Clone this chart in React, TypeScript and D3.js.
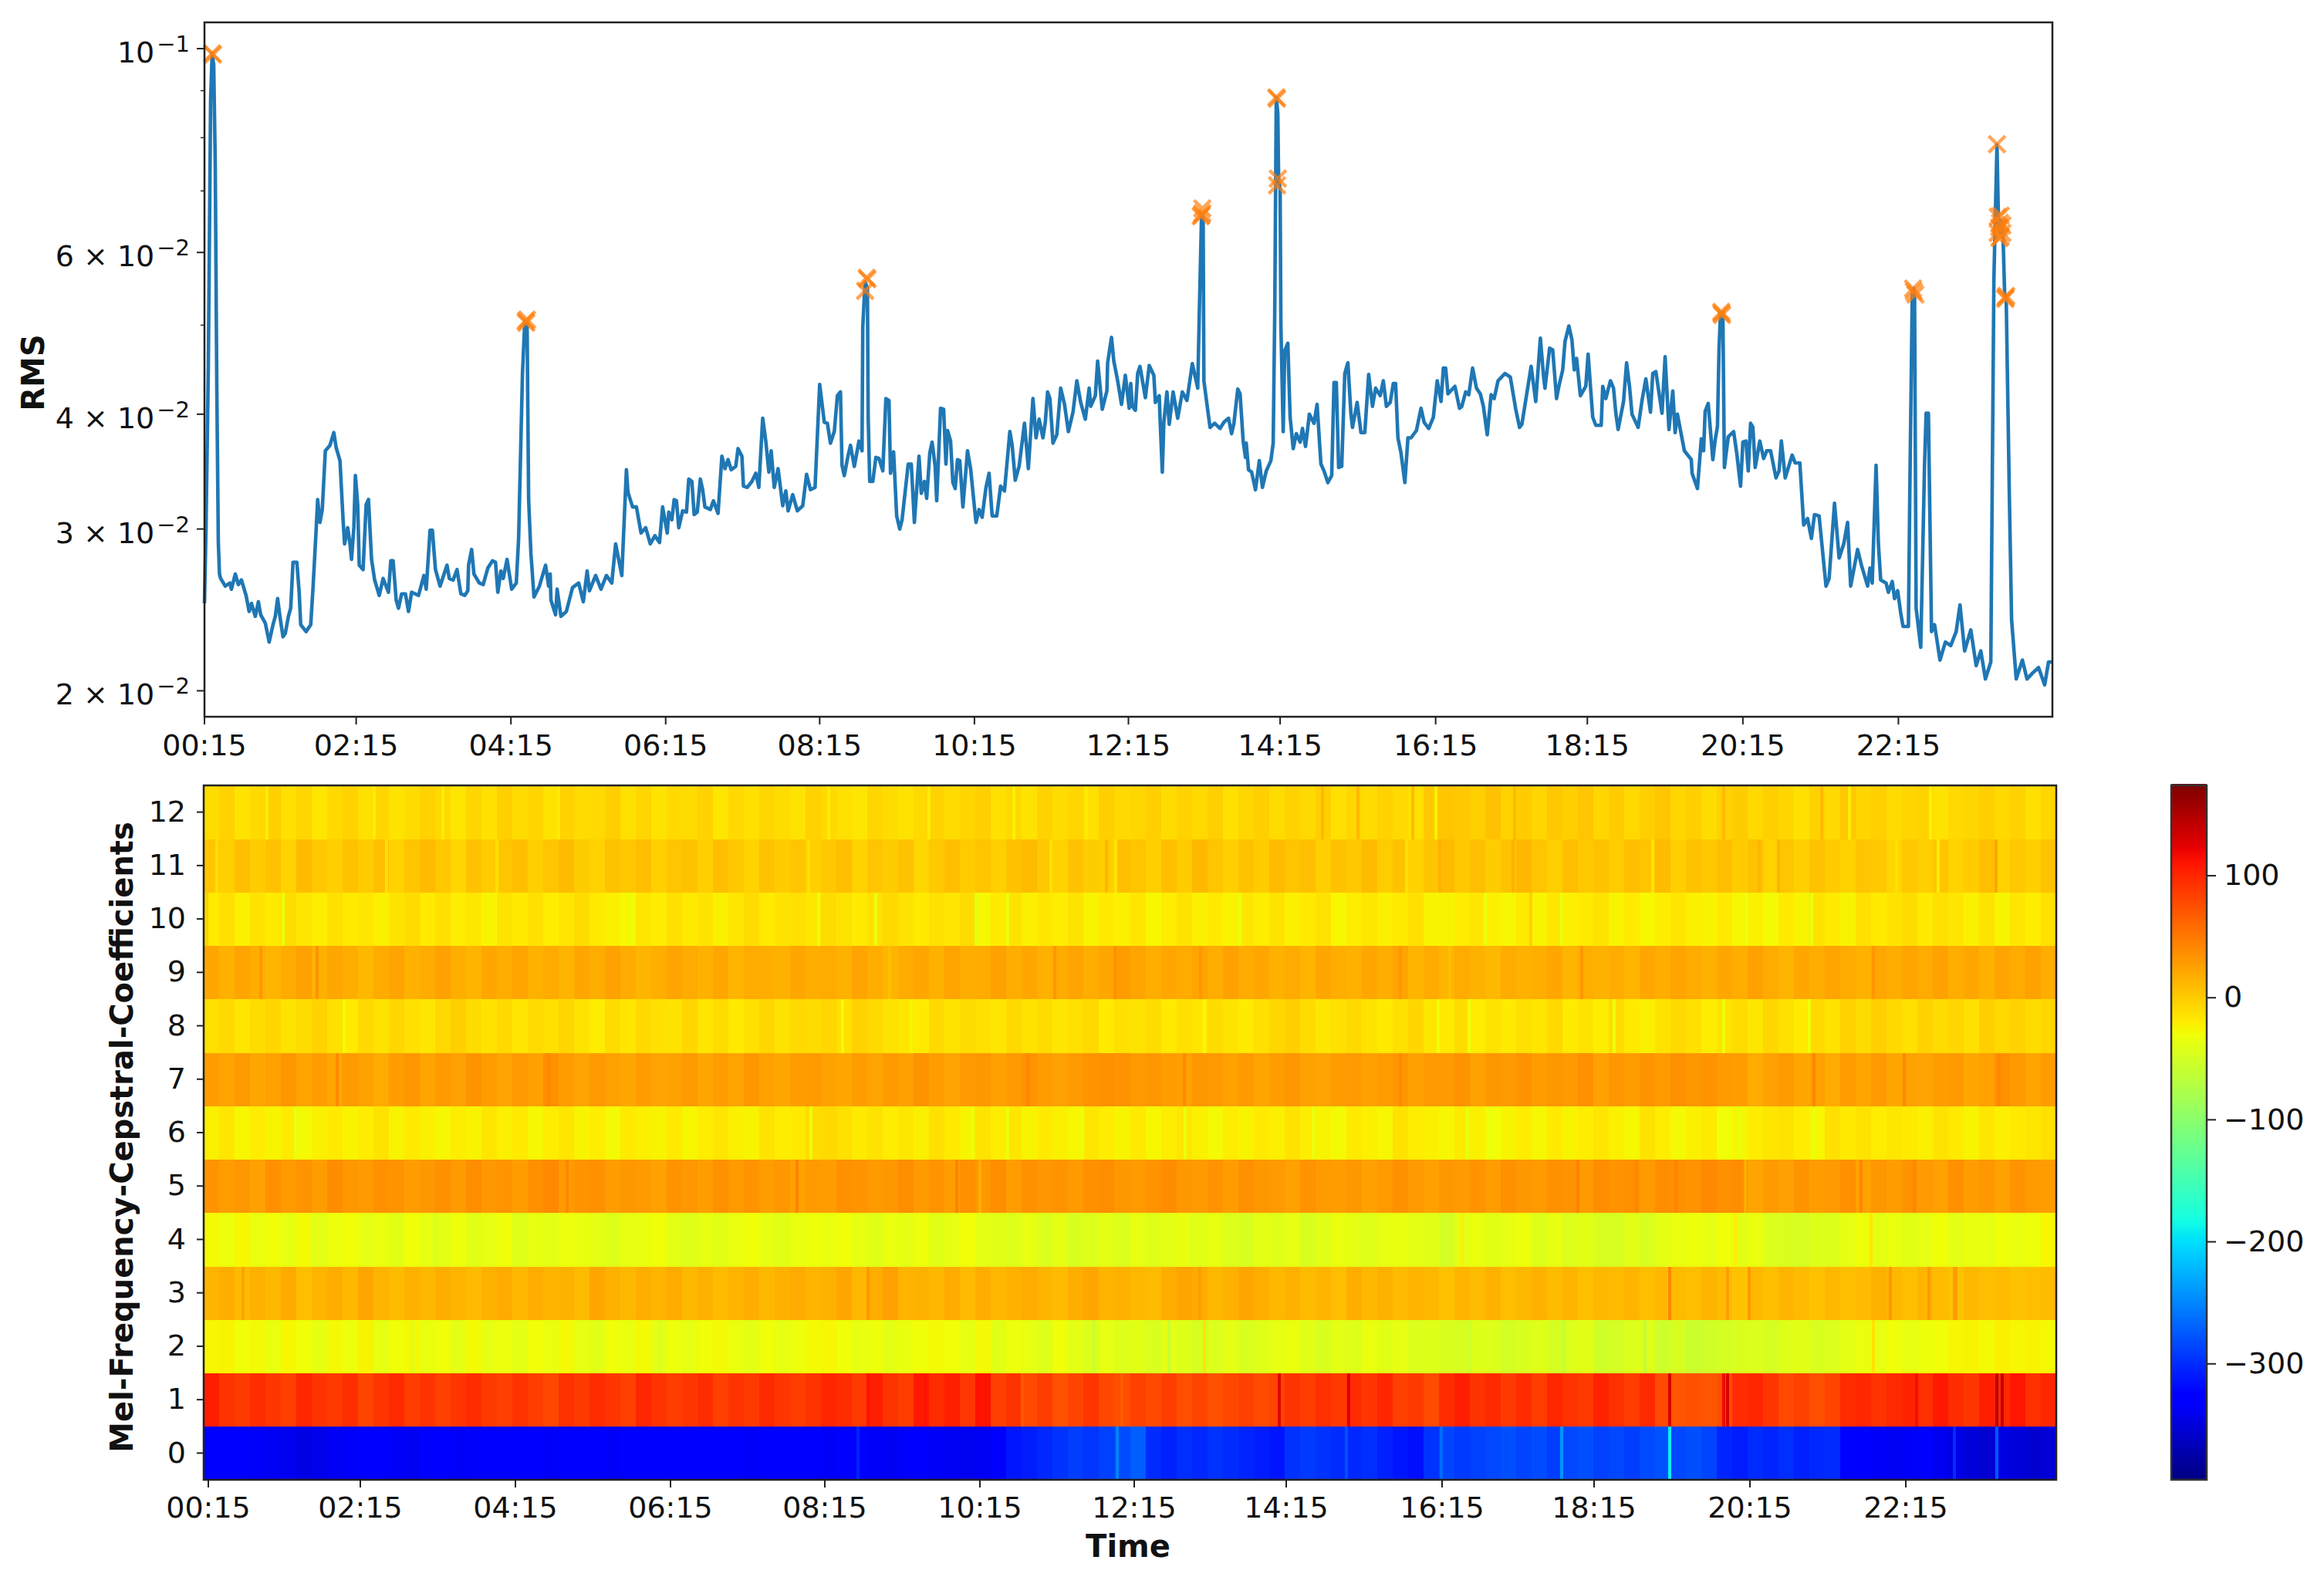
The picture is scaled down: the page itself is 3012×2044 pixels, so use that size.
import { useEffect, useRef } from 'react';
import * as d3 from 'd3';

// tick positions are the real timestamps of the recording, so they wander a little
const tickHours = [0.25, 2.22, 4.23, 6.24, 8.24, 10.25, 12.25, 14.22, 16.24, 18.21, 20.23, 22.25];
const tickLabels = ['00:15', '02:15', '04:15', '06:15', '08:15', '10:15', '12:15', '14:15', '16:15', '18:15', '20:15', '22:15'];

// RMS trace, [hour, value in 1e-3]
const rmsNight: number[][] = [
  [.25,24.9],[.27,30],[.30,45],[.33,88],[.35,98.8],[.37,96],[.39,75],[.41,43],[.43,29],[.445,26.8],
  [.46,26.5],[.52,26],[.58,26.2],[.60,25.8],[.65,26.8],[.69,26.1],[.73,26.4],[.79,25.4],[.83,24.4],[.86,24.9],
  [.91,24.1],[.95,25],[.98,24.2],[1.04,23.7],[1.09,22.6],[1.14,23.6],[1.17,24.1],[1.20,25.2],[1.23,24.1],[1.27,22.9],
  [1.30,23.1],[1.34,24.1],[1.37,24.6],[1.40,27.6],[1.45,27.6],[1.48,25.6],[1.50,23.6],[1.57,23.2],[1.63,23.6],[1.66,25.9],
  [1.70,29.9],[1.72,32.3],[1.75,30.5],[1.78,31.5],[1.82,36.5],[1.88,37],[1.93,38.2],[1.96,36.8],[2.01,35.6],[2.05,30.7],
  [2.07,28.9],[2.11,30.1],[2.14,28.9],[2.16,27.8],[2.19,30.1],[2.21,34.3],[2.24,31.9],[2.26,27.4],[2.31,27.1],[2.35,31.9],
  [2.38,32.3],[2.42,27.8],[2.46,26.4],[2.52,25.4],[2.57,26.5],[2.64,25.6],[2.67,27.7],[2.70,27.7],[2.74,25.1],[2.77,24.6],
  [2.81,25.5],[2.86,25.5],[2.90,24.4],[2.94,25.6],[3.03,25.4],[3.10,26.7],[3.13,25.8],[3.18,29.9],[3.21,29.9],[3.25,27.1],
  [3.31,26],[3.40,27.4],[3.43,26.5],[3.48,26.4],[3.53,27.1],[3.58,25.5],[3.63,25.4],[3.67,25.7],[3.68,27.4],[3.72,28.5],
  [3.75,26.8],[3.82,26.2],[3.87,26.1],[3.93,27.2],[3.99,27.7],[4.03,27.6],[4.06,25.6],[4.10,27],[4.13,26.5],[4.18,27.8],
  [4.24,25.8],[4.30,26.2],[4.33,29.3],[4.38,44.3],[4.41,50.4],[4.44,50.2],[4.46,32.3],[4.49,28.2],[4.53,25.3],[4.60,26],
  [4.68,27.4],[4.72,26],[4.74,26.8],[4.75,25.1],[4.81,24.2],[4.83,25.8],[4.88,24.1],[4.95,24.4],[5.03,25.9],[5.11,26.2],
  [5.17,25],[5.22,27],[5.25,25.7],[5.33,26.7],[5.40,25.8],[5.47,26.7],[5.54,26.2],[5.59,28.9],[5.67,26.7],[5.73,34.8],
  [5.75,32.9],[5.81,31.7],[5.86,31.7],[5.92,29.7],[5.98,30.1],[6.04,28.9],[6.10,29.5],[6.16,29],[6.20,31.7],
];
const rmsMorning: number[][] = [
  [6.26,29.7],[6.28,31.3],[6.32,30.7],[6.35,32.3],[6.38,32.2],[6.41,30.1],[6.46,31.4],[6.51,31.3],[6.54,34],[6.58,33.8],
  [6.61,31.1],[6.65,31.3],[6.69,34],[6.72,33.1],[6.75,31.7],[6.82,31.5],[6.86,32.2],[6.92,31.2],[6.97,36],[7.01,34.9],
  [7.05,35.7],[7.09,34.8],[7.15,35.1],[7.18,36.7],[7.23,36],[7.25,33.4],[7.30,33.3],[7.36,33.8],[7.41,34.5],[7.45,33.3],
  [7.50,39.6],[7.54,37.4],[7.58,34.6],[7.61,36.5],[7.65,33.3],[7.70,34.9],[7.76,31.8],[7.80,33],[7.83,31.4],[7.89,32.7],
  [7.95,31.4],[8.02,31.8],[8.07,34.4],[8.12,33.1],[8.18,33.3],[8.24,43.1],[8.30,39.2],[8.34,39.1],[8.38,37.2],[8.43,38.3],
  [8.47,41.9],[8.51,42.3],[8.53,35.2],[8.56,34.3],[8.61,36.1],[8.64,37],[8.69,35.1],[8.75,37.4],[8.79,36.5],[8.80,49.8],
  [8.82,53.8],[8.83,55.7],[8.86,54.9],[8.87,39.7],[8.89,33.8],[8.93,33.8],[8.97,35.9],[9.01,35.8],[9.06,34.7],[9.10,41.6],
  [9.14,41.4],[9.16,34.5],[9.20,36.4],[9.24,31],[9.28,30],[9.31,30.7],[9.39,35.3],[9.43,35.3],[9.47,30.5],[9.53,36],
  [9.56,32.8],[9.60,33.8],[9.63,32.4],[9.67,36.3],[9.70,37.3],[9.74,35.1],[9.76,32.2],[9.81,40.6],[9.85,40.5],[9.88,35.3],
  [9.90,38.4],[9.94,37.4],[9.97,33.7],[10.00,33.2],[10.03,35.7],[10.06,35.6],[10.10,31.7],[10.16,36.5],[10.20,34.9],[10.27,30.5],
  [10.31,31.5],[10.35,30.9],[10.40,33.3],[10.44,34.5],[10.48,31],[10.54,31],[10.59,33.4],[10.64,33],[10.71,38.3],[10.74,37],
  [10.78,33.9],[10.83,35.1],[10.90,39.1],[10.95,34.9],[11.01,41.6],[11.05,37.7],[11.09,39.5],[11.14,37.7],[11.17,39.2],[11.20,42.3],
  [11.23,41.6],[11.27,37.2],[11.32,38],[11.37,42.7],[11.42,41],[11.47,38.3],[11.53,40.2],[11.58,43.5],[11.63,41.2],[11.69,39.5],
  [11.74,42.7],[11.76,40.8],[11.82,41.9],[11.85,45.7],[11.91,40.5],[11.97,42.4],[11.98,45.5],[12.03,48.5],[12.06,45.7],[12.11,43.5],
  [12.16,41],[12.21,44.1],[12.26,40.6],
];
const rmsAfternoon: number[][] = [
  [12.28,43.2],[12.30,40.8],[12.34,40.4],[12.37,44.3],[12.40,45.1],[12.47,41.7],[12.52,45.2],[12.58,44.1],[12.60,41.2],[12.65,41.9],
  [12.66,39.7],[12.69,34.6],[12.71,39.2],[12.75,42.3],[12.78,39],[12.83,42.3],[12.89,39.6],[12.95,42.3],[13.01,41.4],[13.08,45.4],
  [13.15,42.7],[13.17,51.4],[13.20,66.1],[13.22,65.5],[13.23,43.5],[13.27,41],[13.31,38.7],[13.37,39.1],[13.44,38.6],[13.49,39.2],
  [13.55,39.6],[13.59,38.1],[13.62,39.1],[13.67,42.6],[13.70,42.1],[13.74,37.4],[13.77,35.9],[13.78,37.2],[13.81,34.8],[13.85,34.6],
  [13.90,33.1],[13.95,35.6],[13.99,33.3],[14.04,34.7],[14.10,35.6],[14.13,37.2],[14.15,51.4],[14.17,88.5],[14.19,85],[14.20,72.4],
  [14.22,70.2],[14.23,50],[14.26,38.3],[14.28,46.9],[14.32,47.8],[14.35,39.7],[14.39,36.7],[14.43,38.1],[14.48,37.3],[14.51,38.6],
  [14.55,36.9],[14.60,40],[14.66,39.1],[14.70,41],[14.75,35.3],[14.79,34.7],[14.84,33.7],[14.89,34.3],[14.92,43.3],[14.95,43.3],
  [14.98,35],[15.02,35.1],[15.06,44.3],[15.10,45.5],[15.14,40],[15.16,38.7],[15.22,41.2],[15.27,38.2],[15.32,38.2],[15.37,44.2],
  [15.42,40.8],[15.46,42.7],[15.52,41.9],[15.56,43.5],[15.60,40.8],[15.65,41.2],[15.69,43.2],[15.72,43.2],[15.75,37.7],[15.79,36.3],
  [15.84,33.7],[15.88,37.7],[15.92,37.7],[15.99,38.4],[16.05,40.6],[16.09,39.2],[16.15,38.6],[16.21,39.7],[16.26,43.5],[16.31,41.3],
  [16.34,44.9],[16.37,44.9],[16.40,42.1],[16.49,42.9],[16.55,40.6],[16.58,40.8],[16.63,42.3],[16.67,42],[16.72,44.9],[16.77,42.7],
  [16.82,42.1],[16.86,40.8],[16.91,38],[16.96,42],[17.00,41.6],[17.05,43.5],[17.14,44.3],[17.21,43.9],[17.28,40.5],[17.33,38.7],
  [17.36,39],[17.48,45.1],[17.54,41.3],[17.60,48.4],[17.64,44.1],[17.66,42.7],[17.72,47.2],[17.76,47],[17.81,41.6],[17.84,42.9],
  [17.89,44.7],[17.92,48],[17.97,49.9],[18.01,48.2],[18.04,44.7],[18.07,46],[18.12,41.9],[18.19,42.9],[18.22,46.5],
];
const rmsEvening: number[][] = [
  [18.28,39.7],[18.32,38.9],[18.39,38.9],[18.41,42.9],[18.45,41.6],[18.51,43.5],[18.55,42.7],[18.58,40.1],[18.61,38.5],[18.68,41.3],
  [18.72,45.5],[18.76,42.7],[18.79,40],[18.87,38.7],[18.92,41.4],[18.97,43.7],[19.03,40.2],[19.06,44.3],[19.10,44.5],[19.18,40.1],
  [19.22,46.2],[19.27,38.5],[19.32,42.4],[19.35,38.2],[19.38,40],[19.47,36.5],[19.56,35.7],[19.57,34.5],[19.64,33.2],[19.69,37.6],
  [19.72,36.5],[19.74,40.3],[19.78,41.1],[19.84,35.7],[19.87,37.5],[19.90,38.8],[19.92,47],[19.94,51.6],[19.97,51.6],[19.99,35],
  [20.04,37.8],[20.11,38.3],[20.15,36.3],[20.20,33.4],[20.23,37.3],[20.27,37.4],[20.30,34.7],[20.33,39.1],[20.36,38.7],[20.39,35],
  [20.45,37.4],[20.50,35.8],[20.54,36.5],[20.59,36.5],[20.66,34.1],[20.70,34.7],[20.73,37.4],[20.78,34.1],[20.87,36.1],[20.91,35.4],
  [20.97,35.4],[21.02,30.3],[21.07,30.8],[21.12,29.3],[21.16,31.1],[21.22,31],[21.31,26],[21.35,26.5],[21.42,32],[21.48,27.9],
  [21.54,28.9],[21.59,30.5],[21.63,26],[21.72,28.5],[21.77,27.4],[21.85,26],[21.88,27.2],[21.91,26.2],[21.96,35.2],[21.99,28.9],
  [22.02,26.4],[22.09,26.2],[22.12,25.6],[22.17,26.3],[22.20,25.2],[22.24,25.7],[22.28,24.3],[22.31,23.5],[22.38,23.5],[22.40,34],
  [22.43,54],[22.45,54.8],[22.46,53.5],[22.48,24.6],[22.54,22.3],[22.59,35.4],[22.61,40.1],[22.64,40.1],[22.68,23.2],[22.72,23.6],
  [22.79,21.6],[22.86,22.6],[22.93,22.4],[23.00,23.2],[23.05,24.8],[23.11,22.1],[23.19,23.3],[23.26,21.3],[23.32,22.1],[23.38,20.6],
  [23.45,21.5],[23.49,56],[23.53,78.6],[23.55,64.5],[23.57,63],[23.59,65],[23.61,62],[23.63,54],[23.65,53.5],[23.69,32.9],
  [23.72,23.9],[23.78,20.6],[23.86,21.6],[23.92,20.6],[23.99,20.9],[24.07,21.2],[24.15,20.3],[24.20,21.5],[24.24,21.5],
];

// detected peaks, [hour, value in 1e-3]; repeats are peaks that land on top of each other
const peaks: number[][] = [
  [.35,98.8],[.36,98.5],
  [4.42,50.5],[4.44,50.7],[4.43,50.3],
  [8.85,56.3],[8.86,56.1],[8.83,54.5],
  [13.21,67],[13.20,65.9],[13.19,65.7],[13.21,66.2],
  [14.17,88.5],[14.18,88.2],[14.19,72.2],[14.18,71],
  [19.95,51.5],[19.95,51.7],[19.96,51.3],
  [22.44,54.8],[22.47,54],[22.45,54.4],
  [23.53,78.7],[23.54,65.6],[23.56,63.9],[23.58,65.8],[23.56,62.2],[23.60,63],[23.58,62.4],[23.54,63],[23.60,64.2],[23.57,64.6],
  [23.64,53.6],[23.65,53.8],[23.64,53.4],
];

// MFCC values, one list per coefficient, 12 minute columns from 00:11
const mfcc0 = [-330,-326,-332,-335,-338,-340,-345,-342,-338,-335,-330,-328,-335,-338,-332,-330,-336,-334,-330,-333,-330,-326,-335,-332,-328,-332,-336,-330,-326,-330,-328,-332,-330,-325,-328,-335,-330,-327,-332,-330,-335,-332,-326,-335,-338,-334,-330,-336,-338,-340,-338,-330,-312,-308,-302,-296,-290,-295,-288,-282,-272,-300,-306,-298,-302,-296,-300,-304,-308,-312,-296,-292,-296,-300,-302,-298,-306,-312,-316,-296,-286,-292,-288,-284,-280,-286,-282,-290,-284,-280,-288,-284,-290,-282,-278,-284,-280,-286,-304,-308,-300,-304,-298,-306,-302,-300,-330,-332,-335,-338,-335,-330,-340,-345,-350,-355,-345,-350,-355,-352];
const mfcc1 = [105,92,88,96,90,85,100,92,88,95,82,90,98,86,92,84,90,96,88,84,92,86,80,94,88,96,90,84,100,92,86,90,96,84,92,88,98,90,86,92,100,96,88,104,92,86,108,96,104,90,112,84,92,78,86,74,82,90,80,76,84,78,86,76,82,74,80,84,78,82,92,86,94,88,96,90,100,84,88,78,96,104,92,98,88,96,86,100,92,88,102,94,86,98,78,72,74,72,76,96,100,90,78,84,76,82,96,100,92,98,102,94,108,96,90,104,98,110,94,100];
const mfcc2 = [-26,-24,-30,-28,-34,-26,-30,-36,-28,-32,-24,-36,-30,-28,-34,-30,-38,-28,-36,-32,-38,-30,-34,-28,-36,-40,-30,-34,-28,-38,-32,-36,-30,-28,-34,-38,-30,-36,-32,-28,-26,-30,-36,-32,-38,-34,-30,-28,-30,-36,-28,-40,-32,-36,-42,-30,-38,-44,-36,-42,-40,-46,-38,-42,-48,-44,-38,-46,-42,-36,-34,-40,-46,-38,-42,-34,-40,-36,-44,-42,-46,-48,-42,-44,-50,-46,-42,-48,-44,-40,-52,-50,-44,-42,-54,-48,-56,-52,-50,-46,-44,-48,-42,-40,-46,-44,-38,-34,-36,-30,-36,-32,-30,-26,-24,-28,-22,-26,-24,-28];
const mfcc3 = [14,18,10,16,12,20,8,14,18,12,22,14,10,16,12,18,14,10,16,20,12,18,14,16,10,22,16,12,18,14,20,12,16,10,14,18,12,16,20,14,16,22,12,18,26,14,16,12,20,10,18,12,16,20,14,10,18,22,14,16,12,10,18,24,20,12,16,22,18,12,16,10,14,8,18,12,16,10,14,12,6,14,10,16,8,12,16,10,14,8,12,10,14,8,12,10,8,14,10,6,12,8,14,10,6,12,8,10,16,12,8,14,10,6,12,8,10,6,8,10];
const mfcc4 = [-28,-32,-26,-34,-30,-36,-28,-38,-32,-30,-36,-34,-40,-30,-36,-38,-32,-40,-36,-30,-42,-36,-38,-32,-34,-38,-42,-36,-34,-30,-38,-42,-36,-40,-34,-30,-36,-40,-34,-32,-34,-30,-36,-40,-34,-38,-32,-40,-36,-30,-38,-40,-42,-36,-44,-38,-46,-42,-38,-44,-36,-42,-38,-34,-40,-36,-44,-46,-38,-42,-36,-46,-40,-34,-38,-42,-36,-34,-38,-40,-50,-38,-34,-40,-36,-32,-42,-36,-44,-40,-46,-48,-40,-46,-38,-34,-32,-36,-30,-38,-34,-44,-46,-48,-42,-44,-36,-32,-38,-34,-40,-36,-30,-38,-34,-36,-30,-34,-32,-26];
const mfcc5 = [34,28,32,26,36,30,34,28,38,32,30,36,34,28,32,36,30,38,32,34,28,36,40,30,34,36,28,32,30,26,34,32,28,36,30,34,28,32,26,30,28,36,34,30,32,38,30,34,28,36,32,38,28,36,32,34,30,36,38,32,30,34,38,32,30,34,28,36,32,30,26,34,30,28,32,26,30,36,30,26,32,30,34,28,36,32,30,36,34,30,38,34,36,30,38,36,34,40,36,38,24,30,26,34,28,30,36,26,32,28,34,30,26,36,28,32,26,34,30,28];
const mfcc6 = [-22,-16,-26,-20,-24,-18,-28,-22,-18,-24,-20,-14,-24,-18,-22,-26,-20,-24,-16,-22,-18,-26,-20,-16,-24,-20,-28,-18,-22,-24,-18,-26,-20,-16,-22,-24,-14,-20,-18,-10,-8,-12,-18,-14,-20,-16,-22,-12,-18,-24,-14,-20,-16,-24,-18,-22,-26,-16,-20,-24,-18,-26,-20,-16,-22,-28,-20,-24,-18,-22,-14,-20,-24,-28,-18,-22,-26,-14,-20,-22,-26,-18,-22,-30,-24,-20,-26,-18,-24,-20,-16,-22,-26,-14,-20,-28,-22,-18,-30,-26,-20,-16,-14,-20,-26,-12,-18,-14,-20,-16,-18,-22,-14,-18,-24,-16,-22,-18,-16,-12];
const mfcc7 = [28,24,30,22,26,32,24,28,22,30,26,20,28,32,24,30,26,34,28,24,30,26,36,28,24,30,26,22,28,24,26,30,22,28,24,32,26,22,28,30,26,22,28,24,30,26,34,28,24,30,32,26,30,34,28,26,30,34,36,34,30,32,28,26,32,30,26,30,24,28,32,26,24,28,30,26,28,32,26,30,30,34,26,32,30,34,28,32,30,36,26,32,28,34,30,36,32,34,30,28,20,26,30,22,26,20,28,24,30,22,26,24,28,30,22,26,36,30,24,28];
const mfcc8 = [-12,-8,-16,-10,-6,-14,-10,-4,-12,-18,-8,-14,-6,-12,-16,-8,-2,-10,-14,-8,-16,-10,-12,-6,-14,-20,-10,-16,-8,-12,-14,-6,-16,-10,-18,-12,-6,-14,-8,-10,-6,-12,-4,-8,-14,-16,-18,-8,-14,-10,-12,-16,-8,-14,-10,-16,-12,-8,-18,-12,-14,-10,-18,-12,-16,-10,-14,-18,-12,-6,-2,-10,-16,-12,-8,-14,-18,-12,-6,-16,-18,-10,-20,-14,-18,-12,-16,-8,-18,-14,-20,-10,-18,-22,-14,-8,-12,-20,-14,-10,-16,-6,-12,-18,-8,-14,-4,-10,-2,-8,-12,-4,-10,-6,-12,-2,-8,-4,-10,-6];
const mfcc9 = [22,16,24,18,14,20,26,16,22,18,12,20,24,16,20,26,18,14,22,18,24,16,20,14,22,18,26,20,14,18,24,20,16,22,14,20,18,16,22,18,20,16,24,18,14,20,22,16,24,18,20,26,18,22,16,20,24,18,22,28,24,18,22,20,24,18,26,20,22,16,20,14,22,18,16,22,18,24,14,20,14,20,16,12,20,16,18,22,14,18,16,20,14,22,18,24,20,16,22,18,26,20,14,22,18,24,20,16,22,18,24,20,26,18,22,16,24,20,26,18];
const mfcc10 = [-18,-12,-22,-14,-18,-10,-16,-20,-12,-18,-16,-22,-14,-10,-18,-12,-20,-16,-24,-14,-18,-12,-20,-16,-10,-18,-22,-26,-16,-20,-12,-18,-14,-22,-16,-10,-18,-14,-12,-16,-10,-14,-18,-12,-8,-14,-18,-12,-16,-10,-26,-18,-14,-22,-16,-20,-14,-24,-18,-22,-16,-26,-20,-14,-22,-18,-24,-16,-20,-14,-22,-18,-14,-26,-20,-16,-22,-18,-12,-24,-24,-20,-16,-22,-26,-18,-24,-16,-22,-18,-14,-24,-18,-26,-20,-16,-22,-24,-18,-26,-22,-28,-18,-24,-14,-18,-24,-12,-18,-14,-10,-18,-12,-16,-22,-14,-24,-16,-20,-12];
const mfcc11 = [4,-2,8,0,6,-4,10,2,-2,6,0,8,-4,4,10,2,-6,6,0,4,8,-2,4,10,0,-4,6,2,8,-2,4,6,-2,8,2,-4,6,0,4,-2,2,8,-4,4,0,6,-6,2,8,0,4,-2,6,10,2,-4,6,0,-2,8,4,-2,8,0,12,4,-2,6,0,10,4,8,-2,6,2,10,0,6,-4,4,10,2,8,0,6,12,4,-2,8,2,6,0,8,4,10,-2,6,2,8,0,6,-4,4,-2,6,0,-4,4,2,-6,2,-2,4,-4,0,8,-4,2,-2,6];
const mfcc12 = [-10,-4,-14,-8,-2,-12,-6,-16,-8,-4,-12,-6,-14,-10,-4,-8,-16,-6,-12,-2,-10,-6,-14,-4,-10,-8,-2,-12,-6,-14,-8,-10,-4,-16,-8,-12,-6,-10,-14,-4,-8,-12,-16,-6,-10,-14,-8,-4,-10,-6,-2,-12,-8,-14,-4,-10,-6,-12,-2,-8,-6,-2,-10,-4,-8,-2,-12,-6,-2,-10,-4,-8,-2,-12,-6,-10,-4,-8,-12,2,4,2,-2,6,-4,0,-6,2,-2,4,-6,0,-8,-2,4,-6,-2,-10,-4,0,-8,-2,-6,-12,-4,-8,2,-6,-2,-10,-6,-4,-14,-8,-6,-2,-8,-4,-12,-6];
const mfccRows = [mfcc0, mfcc1, mfcc2, mfcc3, mfcc4, mfcc5, mfcc6, mfcc7, mfcc8, mfcc9, mfcc10, mfcc11, mfcc12];

// thin single-frame outliers inside each band, [hour, value]
const stripes0 = [[19.19,-190],[17.79,-240],[22.88,-300],[23.43,-275],[12.03,-250],[8.67,-305],[16.23,-265],[15.0,-280]];
const stripes1 = [[19.19,130],[19.94,130],[23.43,145],[23.5,140],[14.13,125],[15.03,128],[9.54,112],[8.80,112],[10.28,110],[22.39,115],[19.89,118],[10.8,70],[12.09,68]];
const stripes2 = [[18.87,-62],[12.7,-60],[11.73,-58],[17.82,-62],[13.16,-14],[21.83,-14],[16.6,-52],[6.1,-46],[2.9,-44]];
const stripes3 = [[19.19,42],[22.05,32],[22.88,30],[22.55,30],[8.8,32],[19.94,28],[20.22,30],[22.9,28],[13.1,28],[0.7,26]];
const stripes4 = [[20.04,-20],[11.71,-48],[18.3,-50],[13.0,-46],[16.5,-22],[21.8,-16],[3.2,-46],[1.6,-44]];
const stripes5 = [[7.88,44],[9.95,44],[18.0,44],[18.76,42],[19.27,44],[21.67,42],[22.36,42],[10.25,18],[20.17,18],[4.9,42]];
const stripes6 = [[8.06,-34],[10.15,-34],[10.61,-34],[11.58,-34],[12.91,-34],[14.57,-34],[16.57,-36],[16.85,-34],[20.09,-36],[21.06,-34],[1.38,-34]];
const stripes7 = [[23.46,42],[10.87,42],[12.9,40],[21.06,42],[22.23,40],[4.66,42],[1.92,40],[15.7,40]];
const stripes8 = [[16.19,-30],[16.59,-32],[18.47,-32],[8.47,-28],[9.36,-26],[13.16,-28],[19.89,-30],[2.01,-28],[21.0,-30]];
const stripes9 = [[12.0,36],[11.22,32],[13.11,32],[15.7,32],[18.05,32],[21.83,32],[0.93,32],[1.66,34],[16.34,8],[9.08,8]];
const stripes10 = [[10.2,-38],[8.9,-34],[8.16,-34],[10.61,-34],[13.62,-34],[16.8,-34],[17.79,-34],[20.19,-34],[21.03,-34],[1.22,-32],[5.74,-34],[17.39,-4],[0.23,-4]];
const stripes11 = [[8.03,-14],[11.17,-14],[12.01,-14],[15.78,-14],[18.97,-14],[22.67,-20],[22.13,-14],[0.36,-12],[2.56,-12],[3.99,-12],[11.89,14],[17.16,16],[16.21,16],[20.35,14],[20.6,14],[23.42,22]];
const stripes12 = [[8.29,-20],[9.59,-20],[10.69,-22],[11.63,-20],[16.16,-22],[21.52,-20],[22.57,-24],[1.01,-20],[2.4,-20],[3.29,-20],[4.79,-20],[14.69,12],[15.15,12],[15.86,10],[17.18,12],[19.89,12],[21.16,10]];
const stripeRows = [stripes0, stripes1, stripes2, stripes3, stripes4, stripes5, stripes6, stripes7, stripes8, stripes9, stripes10, stripes11, stripes12];

const cbTicks = [100, 0, -100, -200, -300];
const vMin = -395;
const vMax = 174;

const FONT = '"DejaVu Sans", sans-serif';
const INK = '#222';

// matplotlib jet
const jetR = d3.scaleLinear().domain([0, .35, .66, .89, 1]).range([0, 0, 1, 1, .5]).clamp(true);
const jetG = d3.scaleLinear().domain([0, .125, .375, .64, .91, 1]).range([0, 0, 1, 1, 0, 0]).clamp(true);
const jetB = d3.scaleLinear().domain([0, .11, .34, .65, 1]).range([.5, 1, 1, 0, 0]).clamp(true);
const jetColor = (v: number) => {
  const t = (v - vMin) / (vMax - vMin);
  return `rgb(${Math.round(jetR(t) * 255)},${Math.round(jetG(t) * 255)},${Math.round(jetB(t) * 255)})`;
};

const styleAxis = (g: any) => {
  g.select('.domain').remove();
  g.selectAll('line').attr('stroke', INK).attr('stroke-width', 2);
  g.selectAll('text').attr('font-family', FONT).attr('font-size', 38).attr('fill', '#111');
};

const App = () => {
  const svgRef = useRef<SVGSVGElement>(null);

  useEffect(() => {
    const svg = d3.select(svgRef.current);
    svg.selectAll('*').remove();

    // top panel
    const top = { left: 265, right: 2660, top: 29, bottom: 929 };
    const xTop = d3.scaleLinear().domain([0.25, 24.25]).range([top.left, top.right]);
    const yTop = d3.scaleLog().domain([0.01874, 0.1068]).range([top.bottom, top.top]);

    const rms = [...rmsNight, ...rmsMorning, ...rmsAfternoon, ...rmsEvening];
    const line = d3.line<number[]>()
      .x(d => xTop(d[0]))
      .y(d => yTop(d[1] / 1000));

    svg.append('path')
      .datum(rms)
      .attr('fill', 'none')
      .attr('stroke', '#1f77b4')
      .attr('stroke-width', 4.6)
      .attr('stroke-linejoin', 'round')
      .attr('d', line);

    const markers = d3.symbol().type(d3.symbolX).size(300);
    svg.append('g').selectAll('path')
      .data(peaks)
      .join('path')
      .attr('transform', d => `translate(${xTop(d[0])},${yTop(d[1] / 1000)})`)
      .attr('d', markers)
      .attr('fill', 'none')
      .attr('stroke', '#ff7f0e')
      .attr('stroke-width', 4.4)
      .attr('stroke-opacity', 0.7);

    svg.append('rect')
      .attr('x', top.left).attr('y', top.top)
      .attr('width', top.right - top.left).attr('height', top.bottom - top.top)
      .attr('fill', 'none').attr('stroke', INK).attr('stroke-width', 2.5);

    svg.append('g')
      .attr('transform', `translate(0,${top.bottom})`)
      .call(d3.axisBottom(xTop).tickValues(tickHours).tickFormat((_, i) => tickLabels[i]).tickSize(10).tickPadding(13).offset(0) as any)
      .call(styleAxis);

    // log axis: labelled majors, bare minors
    const yMajor = [[0.1, '10', '\u22121'], [0.06, '6 \u00d7 10', '\u22122'], [0.04, '4 \u00d7 10', '\u22122'], [0.03, '3 \u00d7 10', '\u22122'], [0.02, '2 \u00d7 10', '\u22122']] as any[];
    const yMinor = [0.09, 0.08, 0.07, 0.05];
    const yAxisG = svg.append('g');
    yMajor.forEach(([v, base, exp]) => {
      const y = yTop(v);
      yAxisG.append('line').attr('x1', top.left - 10).attr('x2', top.left).attr('y1', y).attr('y2', y)
        .attr('stroke', INK).attr('stroke-width', 2);
      const t = yAxisG.append('text').attr('x', 246).attr('y', y + 18)
        .attr('text-anchor', 'end').attr('font-family', FONT).attr('font-size', 38).attr('fill', '#111');
      t.append('tspan').text(base);
      t.append('tspan').attr('dy', -14).attr('dx', 3).attr('font-size', 29).text(exp);
    });
    yMinor.forEach(v => {
      const y = yTop(v);
      yAxisG.append('line').attr('x1', top.left - 5).attr('x2', top.left).attr('y1', y).attr('y2', y)
        .attr('stroke', INK).attr('stroke-width', 1.5);
    });

    svg.append('text')
      .attr('transform', `translate(57,483) rotate(-90)`)
      .attr('text-anchor', 'middle').attr('font-family', FONT).attr('font-size', 40)
      .attr('font-weight', 'bold').attr('fill', '#111')
      .text('RMS');

    // heatmap panel
    const heat = { left: 264, right: 2665, top: 1018, bottom: 1918 };
    const xHeat = d3.scaleLinear().domain([0.19, 24.2]).range([heat.left, heat.right]);
    const columns = d3.range(mfcc0.length);
    const xCol = d3.scaleBand<number>().domain(columns).range([heat.left, heat.right]);
    const rowLabels = d3.range(mfccRows.length);
    const yRow = d3.scaleBand<number>().domain(rowLabels).range([heat.bottom, heat.top]);

    const cells = svg.append('g').attr('shape-rendering', 'crispEdges');
    mfccRows.forEach((row, r) => {
      cells.append('g').selectAll('rect')
        .data(row)
        .join('rect')
        .attr('x', (_, i) => xCol(i) as number)
        .attr('y', yRow(r) as number)
        .attr('width', xCol.bandwidth() + 0.5)
        .attr('height', yRow.bandwidth() + 0.5)
        .attr('fill', d => jetColor(d));
      cells.append('g').selectAll('rect')
        .data(stripeRows[r])
        .join('rect')
        .attr('x', d => xHeat(d[0]) - 2)
        .attr('y', yRow(r) as number)
        .attr('width', 4)
        .attr('height', yRow.bandwidth() + 0.5)
        .attr('fill', d => jetColor(d[1]));
    });

    svg.append('rect')
      .attr('x', heat.left).attr('y', heat.top)
      .attr('width', heat.right - heat.left).attr('height', heat.bottom - heat.top)
      .attr('fill', 'none').attr('stroke', INK).attr('stroke-width', 2.5);

    svg.append('g')
      .attr('transform', `translate(0,${heat.bottom})`)
      .call(d3.axisBottom(xHeat).tickValues(tickHours).tickFormat((_, i) => tickLabels[i]).tickSize(10).tickPadding(12).offset(0) as any)
      .call(styleAxis);

    const yHeatAxis = d3.scaleLinear().domain([-0.5, 12.5]).range([heat.bottom, heat.top]);
    svg.append('g')
      .attr('transform', `translate(${heat.left},0)`)
      .call(d3.axisLeft(yHeatAxis).tickValues(rowLabels).tickFormat(d3.format('d') as any).tickSize(9).tickPadding(14).offset(0) as any)
      .call(styleAxis);

    svg.append('text')
      .attr('transform', `translate(172,1474) rotate(-90)`)
      .attr('text-anchor', 'middle').attr('font-family', FONT).attr('font-size', 40)
      .attr('font-weight', 'bold').attr('fill', '#111')
      .text('Mel-Frequency-Cepstral-Coefficients');

    svg.append('text')
      .attr('x', 1462).attr('y', 2018)
      .attr('text-anchor', 'middle').attr('font-family', FONT).attr('font-size', 40)
      .attr('font-weight', 'bold').attr('fill', '#111')
      .text('Time');

    // colorbar
    const bar = { left: 2814, right: 2860, top: 1018, bottom: 1918 };
    const yBar = d3.scaleLinear().domain([vMin, vMax]).range([bar.bottom, bar.top]);
    svg.append('g').attr('shape-rendering', 'crispEdges').selectAll('rect')
      .data(d3.range(vMin, vMax, 2))
      .join('rect')
      .attr('x', bar.left)
      .attr('y', d => yBar(d + 2))
      .attr('width', bar.right - bar.left)
      .attr('height', yBar(0) - yBar(2) + 0.5)
      .attr('fill', d => jetColor(d + 1));

    svg.append('rect')
      .attr('x', bar.left).attr('y', bar.top)
      .attr('width', bar.right - bar.left).attr('height', bar.bottom - bar.top)
      .attr('fill', 'none').attr('stroke', '#333').attr('stroke-width', 2.5);

    svg.append('g')
      .attr('transform', `translate(${bar.right},0)`)
      .call(d3.axisRight(yBar).tickValues(cbTicks).tickFormat(d => String(d).replace('-', '\u2212')).tickSize(12).tickPadding(10).offset(0) as any)
      .call(styleAxis);
  }, []);

  return (
    <svg ref={svgRef} width={3012} height={2044} style={{ position: 'absolute', left: 0, top: 0, background: '#fff' }} />
  );
};

export default App;
